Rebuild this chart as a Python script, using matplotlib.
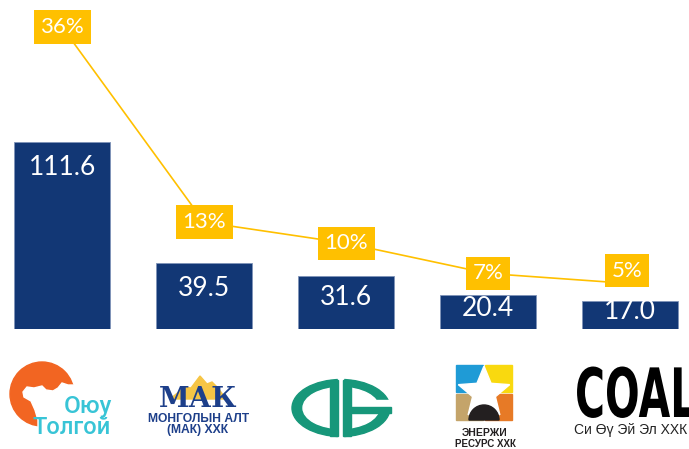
import numpy as np
import matplotlib
matplotlib.use("Agg")
import matplotlib.pyplot as plt
from matplotlib import patches
from matplotlib.patheffects import AbstractPathEffect
from matplotlib.transforms import Affine2D

# Data
companies = ["Оюу Толгой", "МАК", "СЭ", "Энержи Ресурс", "Си Өү Эй Эл"]
values = [111.6, 39.5, 31.6, 20.4, 17.0]
shares = [35.9, 12.7, 10.2, 6.6, 5.4]
share_labels = ["36%", "13%", "10%", "7%", "5%"]

NAVY = "#123775"
GOLD = "#FFC000"
LABEL_FONT = ["Lato", "DejaVu Sans"]


class Squeeze(AbstractPathEffect):
    """narrow glyphs horizontally around x0 (display pixels)"""
    def __init__(self, sx, x0):
        super().__init__()
        self.sx = sx
        self.x0 = x0

    def draw_path(self, renderer, gc, tpath, affine, rgbFace=None):
        extra = Affine2D().translate(-self.x0, 0).scale(self.sx, 1).translate(self.x0, 0)
        renderer.draw_path(gc, tpath, affine + extra, rgbFace)


fig = plt.figure(figsize=(6.89, 4.49), dpi=100)
ax = fig.add_axes([0, 120 / 449, 1, 329 / 449])
x = np.arange(len(values))

ax.bar(x, values, width=0.67, color=NAVY, edgecolor="#7f93b8", linewidth=0.6)
ax.set_xlim(-0.437, 4.415)
ax.set_ylim(0, 196.3)
ax.axis("off")

for xi, v in zip(x, values):
    ypos = max(v - 15.5, v * 0.6)
    ax.text(xi, ypos, f"{v:.1f}", ha="center", va="center", color="white",
            fontsize=19, family=LABEL_FONT)

ax2 = ax.twinx()
ax2.set_ylim(0, 39.1)
ax2.axis("off")
ax2.plot(x, shares, color=GOLD, linewidth=1.2, zorder=2)

offsets = [0, 0, 0, 0, 1.55]  # last label moved up a bit
for xi, s, lab, off in zip(x, shares, share_labels, offsets):
    ax2.text(xi - (0.02 if off else 0), s + off, lab, ha="center", va="center",
             color="white", fontsize=16, family=LABEL_FONT,
             bbox=dict(boxstyle="square,pad=0.3", fc=GOLD, ec="none"), zorder=3)

# logo area drawn in pixel coordinates
ov = fig.add_axes([0, 0, 1, 1])
ov.set_xlim(0, 689)
ov.set_ylim(449, 0)
ov.axis("off")

# Oyu Tolgoi
ov.add_patch(patches.Circle((42, 394), 32, color="#f26522"))
ov.add_patch(patches.Polygon([(23, 392), (27, 387), (34, 388), (42, 386), (46, 390),
                              (53, 391), (58, 388), (62, 383), (68, 385), (80, 385),
                              (80, 430), (38, 430), (38, 420), (35, 410), (31, 401),
                              (24, 397)], color="white"))
ov.text(112, 413, "Оюу", ha="right", va="baseline", color="#38c4d6",
        fontsize=17.5, family=["Roboto", "DejaVu Sans"], fontweight="medium")
ov.text(111, 434, "Толгой", ha="right", va="baseline", color="#38c4d6",
        fontsize=17, family=["Roboto", "DejaVu Sans"], fontweight="medium")

# MAK
ov.add_patch(patches.Polygon([(170, 399), (185, 387), (191, 388), (200, 376), (207, 384),
                              (212, 382), (218, 388), (226, 399)], color="#f6c545"))
ov.text(198, 407, "МАК", ha="center", va="baseline", color="#1d3f8a",
        fontsize=20, family=["DejaVu Serif"], fontweight="bold")
ov.text(199, 421.5, "МОНГОЛЫН АЛТ", ha="center", va="baseline", color="#1d3f8a",
        fontsize=8.7, family=["Liberation Sans", "DejaVu Sans"], fontweight="bold")
ov.text(198, 432.5, "(МАК) ХХК", ha="center", va="baseline", color="#1d3f8a",
        fontsize=8.7, family=["Liberation Sans", "DejaVu Sans"], fontweight="bold")

# green logo
GREEN = "#17977a"
cx, cy = 341, 408
ov.add_patch(patches.Ellipse((cx, cy), 98, 57, color=GREEN))
ov.add_patch(patches.Ellipse((cx, cy), 76, 41, color="white"))
ov.add_patch(patches.Rectangle((338, 375), 5, 66, color="white"))
ov.add_patch(patches.Rectangle((330, 380), 8, 56, color=GREEN))
ov.add_patch(patches.Rectangle((343, 380), 8, 56, color=GREEN))
ov.add_patch(patches.Rectangle((376, 400), 20, 7, color="white"))
ov.add_patch(patches.Rectangle((351, 407), 40, 6, color=GREEN))

# Energy resource
ov.add_patch(patches.Rectangle((456, 365), 27, 27, color="#1f9bd6"))
ov.add_patch(patches.Rectangle((485, 365), 27, 27, color="#f9d90f"))
ov.add_patch(patches.Rectangle((456, 394), 27, 26, color="#c4a46a"))
ov.add_patch(patches.Rectangle((485, 394), 27, 26, color="#e77a26"))
ang = np.linspace(-np.pi / 2, 1.5 * np.pi, 11)[:-1]
rad = np.where(np.arange(10) % 2 == 0, 27, 12)
ov.add_patch(patches.Polygon(np.c_[484 + rad * np.cos(ang), 393 + rad * np.sin(ang)],
                             color="white"))
ov.add_patch(patches.Wedge((484, 420), 15, 180, 360, color="#231f20"))
ov.text(485, 436, "ЭНЕРЖИ", ha="center", va="baseline", color="#231f20",
        fontsize=7.5, family=["Liberation Sans"], fontweight="bold")
ov.text(485, 447, "РЕСУРС ХХК", ha="center", va="baseline", color="#231f20",
        fontsize=7, family=["Liberation Sans"], fontweight="bold")

# COAL
ov.text(575, 417, "COAL", ha="left", va="baseline", color="black",
        fontsize=49, family="DejaVu Sans", fontweight="bold",
        path_effects=[Squeeze(0.6, 575)])
ov.text(574, 434, "Си Өү Эй Эл ХХК", ha="left", va="baseline", color="#222222",
        fontsize=10, family=["Liberation Sans", "DejaVu Sans"])

plt.savefig("out.png", dpi=100)
plt.close()
